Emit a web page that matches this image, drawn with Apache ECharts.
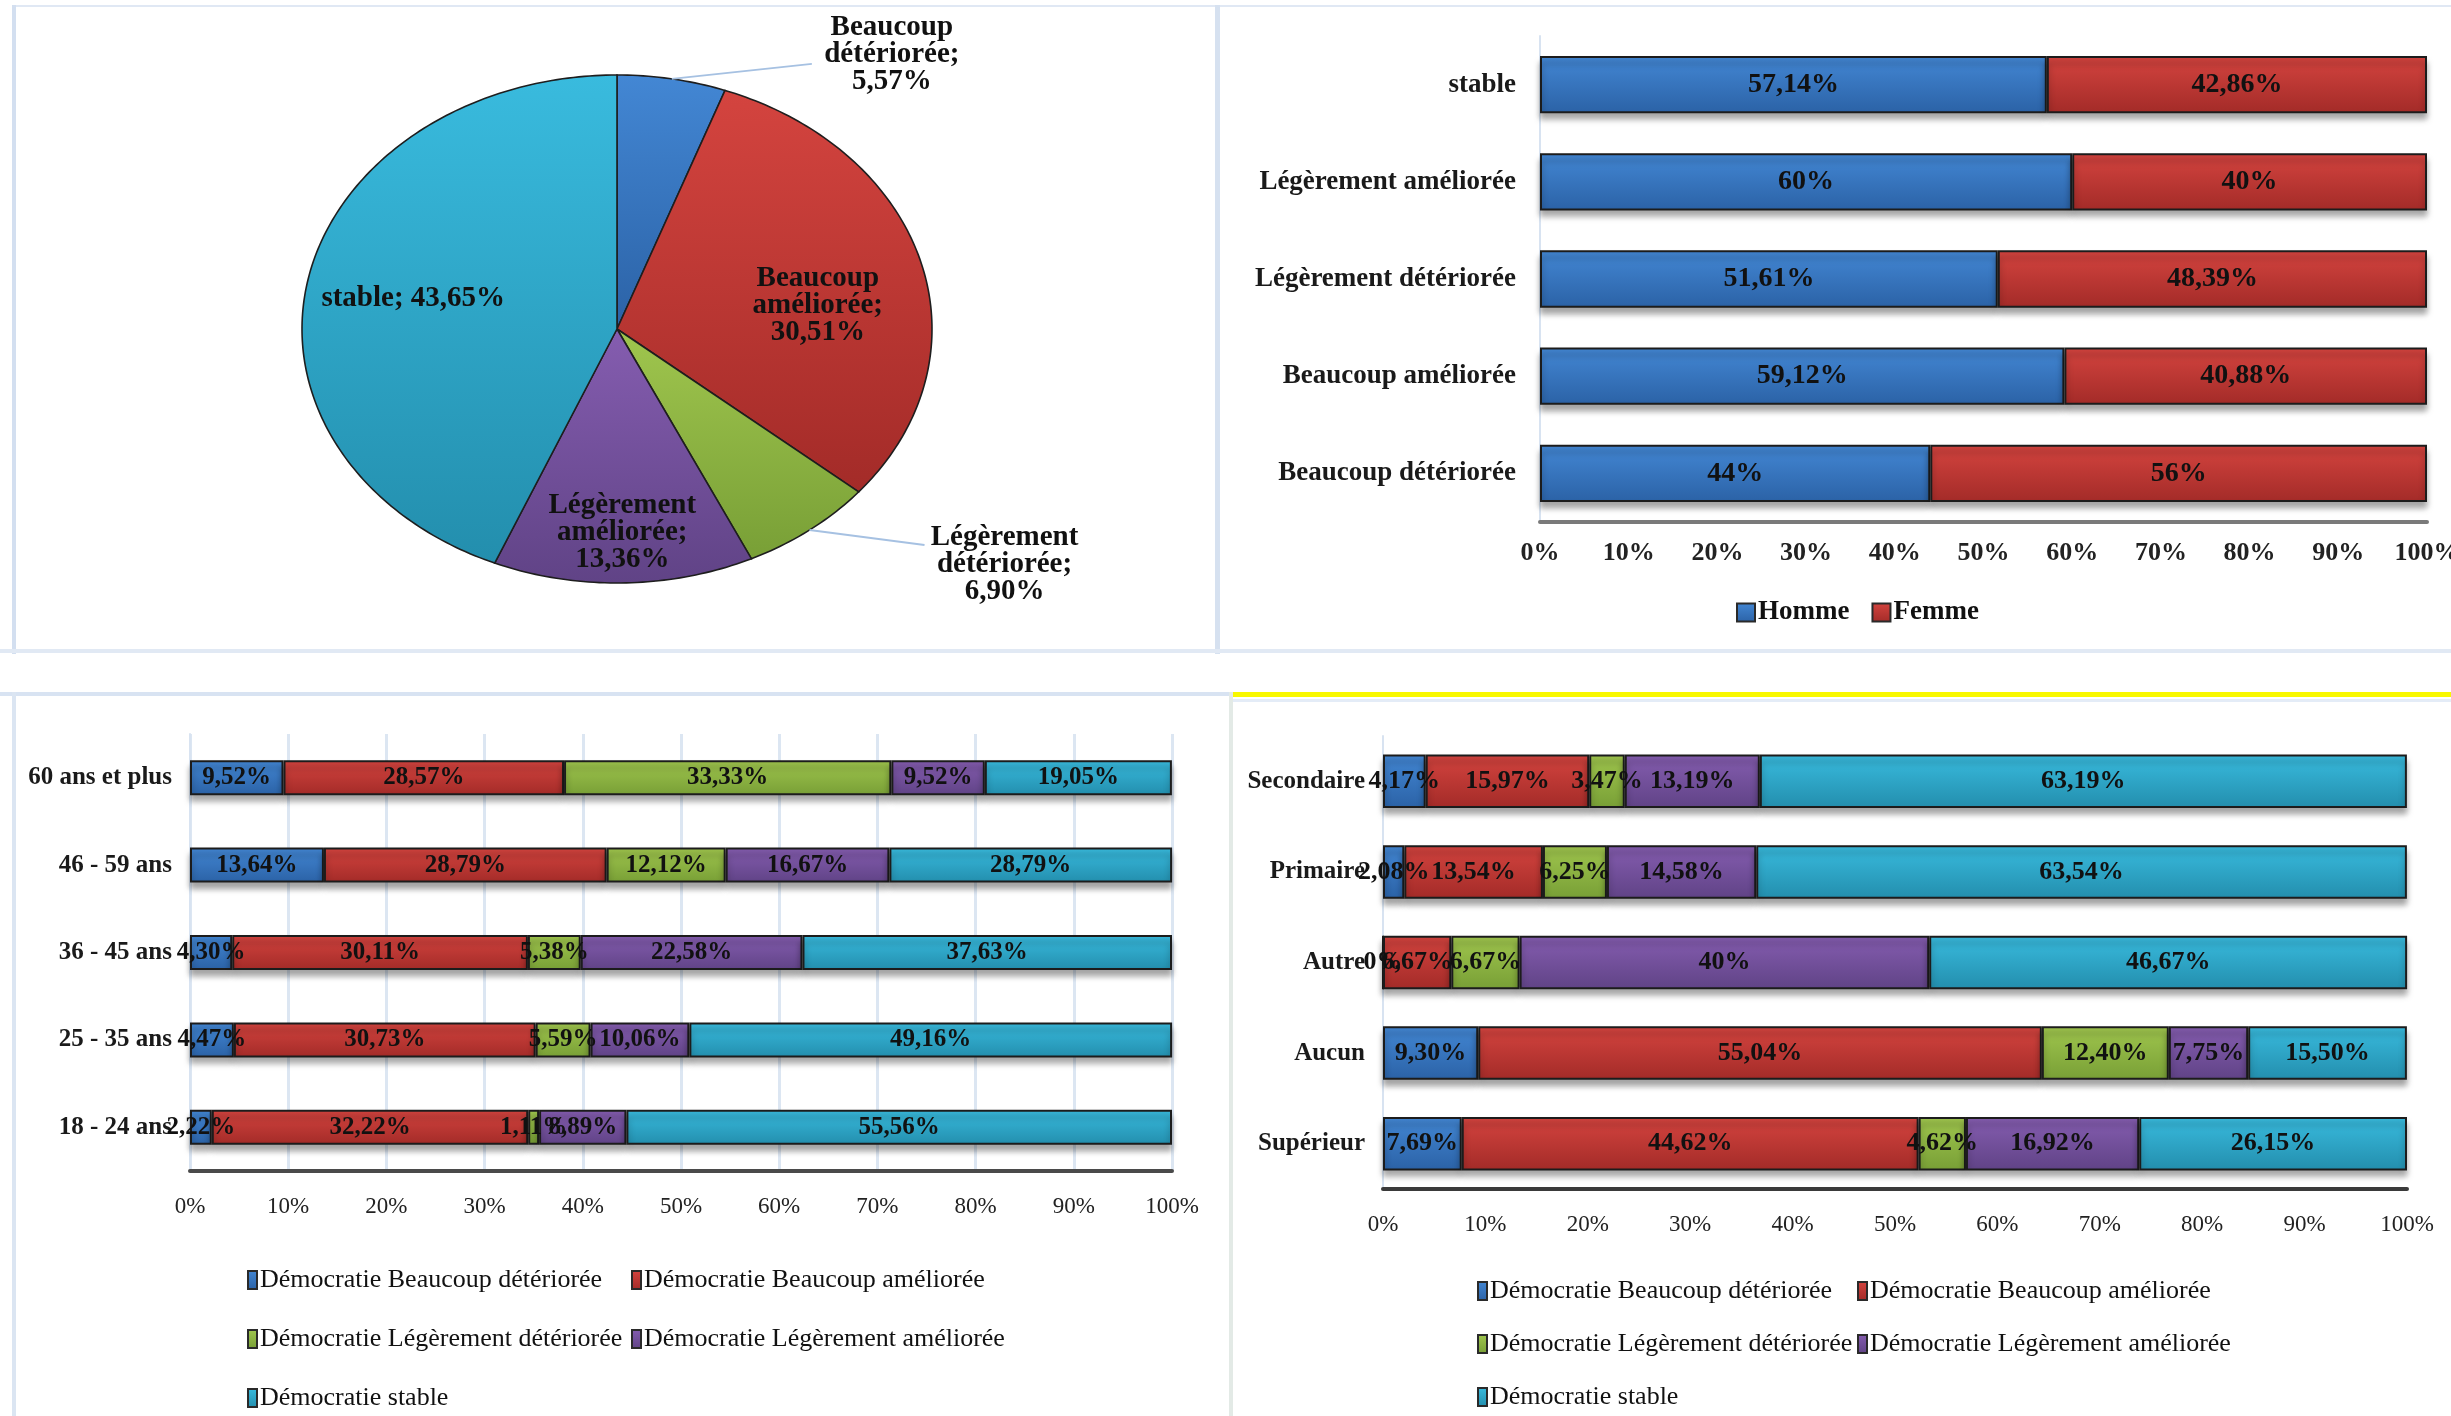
<!DOCTYPE html>
<html>
<head>
<meta charset="utf-8">
<title>Évolution perçue de la démocratie</title>
<script src="https://cdn.jsdelivr.net/npm/echarts@6/dist/echarts.min.js"></script>
<style>
  html, body { margin: 0; padding: 0; background: #ffffff; }
  .line { position: absolute; }
  #chart { position: absolute; left: 0; top: 0; width: 2451px; height: 1416px; }
</style>
</head>
<body>
<!-- panel frames -->
<div class="line" style="left:12px;top:5px;width:2439px;height:2px;background:#e0e8f4"></div>
<div class="line" style="left:12px;top:5px;width:4px;height:649px;background:#d3dff0"></div>
<div class="line" style="left:1215px;top:5px;width:5px;height:649px;background:#d6e1f0"></div>
<div class="line" style="left:0;top:649px;width:2451px;height:4px;background:#e1e9f4"></div>
<div class="line" style="left:0;top:692px;width:1229px;height:4px;background:#d8e3f2"></div>
<div class="line" style="left:12px;top:692px;width:4px;height:724px;background:#dbe5f2"></div>
<div class="line" style="left:1229px;top:692px;width:1222px;height:5px;background:#f8f800"></div>
<div class="line" style="left:1229px;top:699px;width:1222px;height:3px;background:#e4ecf7"></div>
<div class="line" style="left:1229px;top:692px;width:4px;height:724px;background:#e3eae6"></div>
<div id="chart"></div>
<script>
// ---- Répartition globale ----
const pieNames = ['Beaucoup détériorée', 'Beaucoup améliorée', 'Légèrement détériorée', 'Légèrement améliorée', 'stable'];
const pieValues = [5.57, 30.51, 6.90, 13.36, 43.65];

// ---- Par sexe ----
const genderCategories = ['Beaucoup détériorée', 'Beaucoup améliorée', 'Légèrement détériorée', 'Légèrement améliorée', 'stable'];
const hommeValues = [44, 59.12, 51.61, 60, 57.14];
const femmeValues = [56, 40.88, 48.39, 40, 42.86];

// ---- Par tranche d'âge ----
const ageCategories = ['18 - 24 ans', '25 - 35 ans', '36 - 45 ans', '46 - 59 ans', '60 ans et plus'];
const ageBeaucoupDeterioree = [2.22, 4.47, 4.30, 13.64, 9.52];
const ageBeaucoupAmelioree = [32.22, 30.73, 30.11, 28.79, 28.57];
const ageLegerementDeterioree = [1.11, 5.59, 5.38, 12.12, 33.33];
const ageLegerementAmelioree = [8.89, 10.06, 22.58, 16.67, 9.52];
const ageStable = [55.56, 49.16, 37.63, 28.79, 19.05];

// ---- Par niveau d'instruction ----
const eduCategories = ['Supérieur', 'Aucun', 'Autre', 'Primaire', 'Secondaire'];
const eduBeaucoupDeterioree = [7.69, 9.30, 0, 2.08, 4.17];
const eduBeaucoupAmelioree = [44.62, 55.04, 6.67, 13.54, 15.97];
const eduLegerementDeterioree = [4.62, 12.40, 6.67, 6.25, 3.47];
const eduLegerementAmelioree = [16.92, 7.75, 40, 14.58, 13.19];
const eduStable = [26.15, 15.50, 46.67, 63.54, 63.19];

const seriesNames = ['Démocratie Beaucoup détériorée', 'Démocratie Beaucoup améliorée',
  'Démocratie Légèrement détériorée', 'Démocratie Légèrement améliorée', 'Démocratie stable'];
const genderNames = ['Homme', 'Femme'];
const percentAxis = { min: 0, max: 100, interval: 10 };

// ---- styles ----
const SERIF = '"Liberation Serif", "Times New Roman", serif';
const palette = [
  ['#4387d4', '#2b62a6'],   // beaucoup détériorée
  ['#d4443f', '#a32b28'],   // beaucoup améliorée
  ['#a0c64e', '#789f36'],   // légèrement détériorée
  ['#855db0', '#604386'],   // légèrement améliorée
  ['#39bbde', '#238ead']    // stable
];
function grad(c) {
  return { type: 'linear', x: 0, y: 0, x2: 0, y2: 1,
    colorStops: [{ offset: 0, color: c[0] }, { offset: 1, color: c[1] }] };
}
function pct(v) {
  return (Number.isInteger(v) ? String(v) : v.toFixed(2).replace('.', ',')) + '%';
}
function barItem(c) {
  return { color: grad(c), borderColor: '#1c1c1c', borderWidth: 2,
    shadowColor: 'rgba(0,0,0,0.35)', shadowBlur: 6, shadowOffsetY: 6 };
}

// ---- ellipse pie geometry ----
const PIE = { cx: 617, cy: 329, rx: 315, ry: 254 };
const pieTotal = pieValues.reduce((a, b) => a + b, 0);
const pieStarts = [];
pieValues.reduce((acc, v) => { pieStarts.push(acc); return acc + v; }, 0);
function ellPt(frac, k) {
  const a = frac * 2 * Math.PI;
  return [PIE.cx + k * PIE.rx * Math.sin(a), PIE.cy - k * PIE.ry * Math.cos(a)];
}
function pieLabel(name, v) {
  const words = name.split(' ');
  if (words.length === 1) return name + '; ' + pct(v);
  return words.join('\n') + ';\n' + pct(v);
}
function renderPie(params, api) {
  const i = params.dataIndex;
  const v = api.value(0);
  const s = pieStarts[i] / pieTotal;
  const e = (pieStarts[i] + v) / pieTotal;
  const n = Math.max(4, Math.ceil((e - s) * 360));
  const pts = [[PIE.cx, PIE.cy]];
  for (let j = 0; j <= n; j++) pts.push(ellPt(s + (e - s) * j / n, 1));
  const children = [{
    type: 'polygon', shape: { points: pts },
    style: { fill: grad(palette[i]), stroke: '#1e1e1e', lineWidth: 1.6 }
  }];
  const mid = (s + e) / 2;
  const textStyle = { text: pieLabel(pieNames[i], v), align: 'center', verticalAlign: 'middle',
    fontFamily: SERIF, fontWeight: 'bold', fontSize: 29, lineHeight: 27, fill: '#111' };
  if (v < 8) {
    // small slices: label outside with a leader line
    const edge = ellPt(mid, 1);
    const upper = Math.cos(mid * 2 * Math.PI) > 0;
    const end = upper ? [edge[0] + 140, edge[1] - 15] : [edge[0] + 115, edge[1] + 15];
    children.push({ type: 'polyline', shape: { points: [edge, end] },
      style: { stroke: '#a6c1e2', lineWidth: 2, fill: null } });
    textStyle.x = end[0] + 80;
    textStyle.y = end[1] + (upper ? -9 : 19);
  } else {
    const p = ellPt(mid, v < 20 ? 0.8 : 0.66);
    textStyle.x = p[0];
    textStyle.y = p[1] + (v < 20 ? 0 : v < 40 ? 20 : 3);
  }
  children.push({ type: 'text', style: textStyle });
  return { type: 'group', children: children };
}

// ---- stacked series builders ----
function stackSeries(name, values, colorIdx, axisIdx, stack, fontSize) {
  return {
    type: 'bar', name: name, stack: stack, data: values,
    xAxisIndex: axisIdx, yAxisIndex: axisIdx,
    barCategoryGap: axisIdx === 1 ? '60%' : '41%',
    itemStyle: barItem(palette[colorIdx]),
    label: { show: true, position: 'inside', formatter: p => pct(p.value),
      fontFamily: SERIF, fontWeight: 'bold', fontSize: fontSize, color: '#111' },
    emphasis: { disabled: true }
  };
}
const ageData = [ageBeaucoupDeterioree, ageBeaucoupAmelioree, ageLegerementDeterioree, ageLegerementAmelioree, ageStable];
const eduData = [eduBeaucoupDeterioree, eduBeaucoupAmelioree, eduLegerementDeterioree, eduLegerementAmelioree, eduStable];

function valueAxis(idx, labelSize, labelMargin, lineColor, lineWidth, grid) {
  return {
    type: 'value', gridIndex: idx, min: percentAxis.min, max: percentAxis.max, interval: percentAxis.interval,
    axisLabel: { formatter: '{value}%', fontFamily: SERIF, fontSize: labelSize,
      fontWeight: idx === 0 ? 'bold' : 'normal', color: '#222', margin: labelMargin },
    axisLine: { show: true, lineStyle: { color: lineColor, width: lineWidth } },
    axisTick: { show: false },
    splitLine: grid ? { show: true, lineStyle: { color: '#dce6f2', width: 3 } } : { show: false }
  };
}
function categoryAxis(idx, cats, labelSize, labelMargin) {
  return {
    type: 'category', gridIndex: idx, data: cats,
    axisLabel: { fontFamily: SERIF, fontSize: labelSize, fontWeight: 'bold',
      color: '#1a1a1a', margin: labelMargin },
    axisLine: { show: true, lineStyle: { color: '#d8e3f1', width: 2 } },
    axisTick: { show: false }
  };
}
function legendBlock(names, left, top, w, h, gap, size, bold, orient) {
  return {
    data: names, left: left, top: top, orient: orient, itemWidth: w, itemHeight: h, itemGap: gap,
    height: orient === 'vertical' ? 200 : undefined, padding: 0,
    icon: 'rect', selectedMode: false,
    itemStyle: { borderColor: '#2a2a2a', borderWidth: 2, shadowBlur: 0, shadowOffsetY: 0 },
    textStyle: { fontFamily: SERIF, fontSize: size, fontWeight: bold ? 'bold' : 'normal',
      color: '#111', lineHeight: size, padding: [0, 0, 0, -2] }
  };
}

const series = [
  { type: 'custom', coordinateSystem: 'none', silent: true, data: pieValues.map(v => [v]), renderItem: renderPie },
  stackSeries(genderNames[0], hommeValues, 0, 0, 'sexe', 28),
  stackSeries(genderNames[1], femmeValues, 1, 0, 'sexe', 28)
];
ageData.forEach((d, k) => series.push(stackSeries(seriesNames[k], d, k, 1, 'age', 25)));
eduData.forEach((d, k) => series.push(stackSeries(seriesNames[k], d, k, 2, 'instruction', 26)));

const chart = echarts.init(document.getElementById('chart'), null, { renderer: 'canvas' });
chart.setOption({
  animation: false,
  backgroundColor: 'transparent',
  grid: [
    { left: 1540, right: 24, top: 36, height: 486, outerBoundsMode: 'none' },
    { left: 190, right: 1279, top: 734, height: 437, outerBoundsMode: 'none' },
    { left: 1383, right: 44, top: 736, height: 453, outerBoundsMode: 'none' }
  ],
  xAxis: [
    valueAxis(0, 26, 18, '#7a7a7a', 4, false),
    valueAxis(1, 23, 24, '#4a4a4a', 4, true),
    valueAxis(2, 23, 24, '#3a3a3a', 4, false)
  ],
  yAxis: [
    categoryAxis(0, genderCategories, 27, 24),
    categoryAxis(1, ageCategories, 25, 18),
    categoryAxis(2, eduCategories, 25, 18)
  ],
  legend: [
    legendBlock(genderNames, 1736, 599, 18, 18, 22, 27, true, 'horizontal'),
    legendBlock([seriesNames[0], seriesNames[2], seriesNames[4]], 247, 1267, 9, 18, 33, 26, false, 'vertical'),
    legendBlock([seriesNames[1], seriesNames[3]], 631, 1267, 9, 18, 33, 26, false, 'vertical'),
    legendBlock([seriesNames[0], seriesNames[2], seriesNames[4]], 1477, 1278, 9, 18, 27, 26, false, 'vertical'),
    legendBlock([seriesNames[1], seriesNames[3]], 1857, 1278, 9, 18, 27, 26, false, 'vertical')
  ],
  tooltip: { show: false },
  series: series
});
</script>
</body>
</html>
